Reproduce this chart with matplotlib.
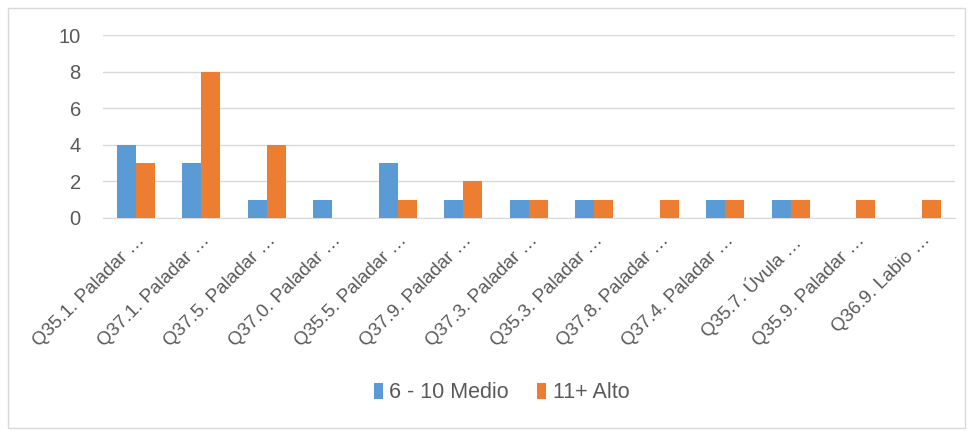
import numpy as np
import matplotlib
matplotlib.use("Agg")
import matplotlib.pyplot as plt
from matplotlib.patches import Rectangle

categories = ["Q35.1. Paladar …", "Q37.1. Paladar …", "Q37.5. Paladar …", "Q37.0. Paladar …",
              "Q35.5. Paladar …", "Q37.9. Paladar …", "Q37.3. Paladar …", "Q35.3. Paladar …",
              "Q37.8. Paladar …", "Q37.4. Paladar …", "Q35.7. Úvula …", "Q35.9. Paladar …",
              "Q36.9. Labio …"]
medio = [4, 3, 1, 1, 3, 1, 1, 1, 0, 1, 1, 0, 0]
alto = [3, 8, 4, 0, 1, 2, 1, 1, 1, 1, 1, 1, 1]
series_names = ["6 - 10 Medio", "11+ Alto"]

plt.rcParams['font.family'] = ['Liberation Sans', 'DejaVu Sans']

fig = plt.figure(figsize=(9.72, 4.34), dpi=100)
fig.patches.append(Rectangle((8 / 972, 6 / 434), 957 / 972, 420 / 434, transform=fig.transFigure,
                             fill=False, edgecolor='#d9d9d9', linewidth=1))
ax = fig.add_axes([0.106, 0.498, 0.876, 0.421])

x = np.arange(len(categories))
w = 0.29
ax.bar(x - w / 2, medio, w, color='#5b9bd5', label=series_names[0], zorder=3)
ax.bar(x + w / 2, alto, w, color='#ed7d31', label=series_names[1], zorder=3)

ax.set_ylim(0, 10)
ax.set_yticks(range(0, 11, 2))
ax.set_xlim(-0.5, len(categories) - 0.5)
ax.yaxis.grid(True, color='#d9d9d9', linewidth=1, zorder=0)
for s in ['top', 'right', 'left']:
    ax.spines[s].set_visible(False)
ax.spines['bottom'].set_color('#d9d9d9')
ax.tick_params(axis='both', length=0, colors='#595959')
ax.tick_params(axis='y', labelsize=14.5, pad=16)
ax.set_xticks(x)
ax.set_xticklabels(categories, rotation=45, ha='right', rotation_mode='anchor', fontsize=13.5)
ax.tick_params(axis='x', pad=10)

fig.legend(loc='center', bbox_to_anchor=(0.516, 0.095), ncol=2, frameon=False,
           fontsize=15.5, labelcolor='#595959', handlelength=0.42, handleheight=0.75,
           handletextpad=0.3, columnspacing=1.3)

fig.savefig("out.png", dpi=100)
